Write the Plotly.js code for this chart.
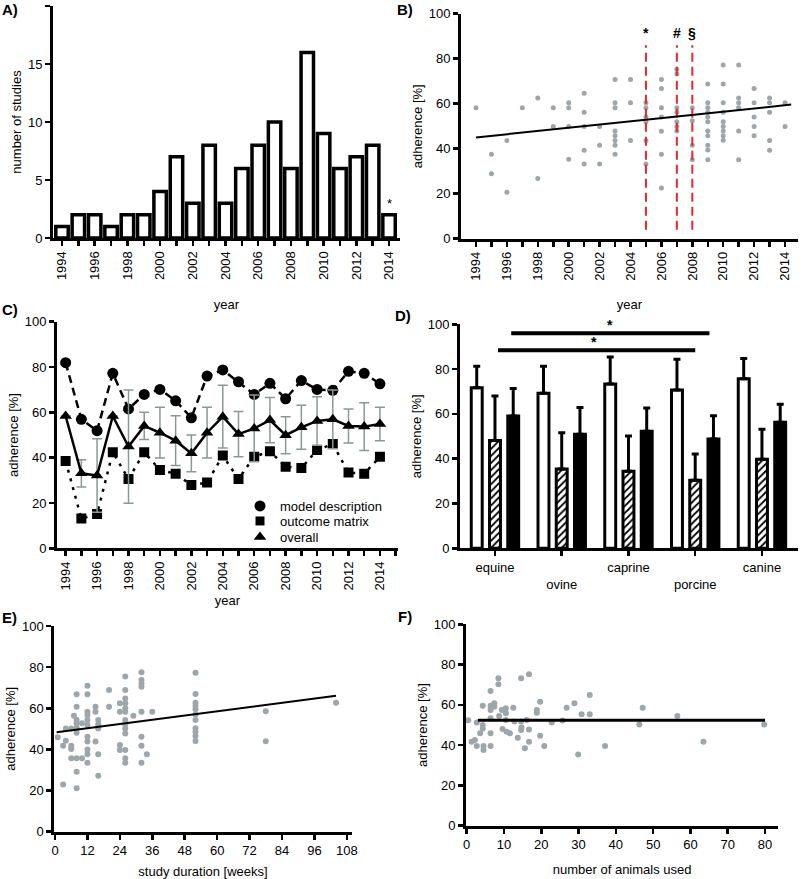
<!DOCTYPE html>
<html><head><meta charset="utf-8">
<script src="https://cdn.plot.ly/plotly-3.0.1.min.js"></script>
<style>html,body{margin:0;padding:0;background:#fff}#chart{width:800px;height:879px}</style>
</head><body><div id="chart"></div>
<script>
// ---------- Panel A: number of studies per year ----------
const years = [1994,1995,1996,1997,1998,1999,2000,2001,2002,2003,2004,2005,2006,2007,2008,2009,2010,2011,2012,2013,2014];
const studiesPerYear = [1,2,2,1,2,2,4,7,3,8,3,6,8,10,6,16,9,6,7,8,2];

// ---------- Panel B: adherence per study by year ----------
const yearsB = [1994,1995,1995,1996,1996,1997,1998,1998,1999,1999,
  2000,2000,2000,2000,2001,2001,2001,2001,2001,2002,2002,2002,
  2003,2003,2003,2003,2003,2003,2003,2003,2004,2004,2004,
  2005,2005,2005,2005,2005,2005,2006,2006,2006,2006,2006,2006,2006,
  2007,2007,2007,2007,2007,2007,2007,2008,2008,2008,2008,
  2009,2009,2009,2009,2009,2009,2009,2009,2009,2009,2009,
  2010,2010,2010,2010,2010,2010,2010,2010,2010,
  2011,2011,2011,2011,2011,2011,2012,2012,2012,2012,2012,
  2013,2013,2013,2013,2013,2014,2014];
const adherenceB = [58.2,37.5,28.9,43.6,20.6,58.2,62.5,26.8,58.2,49.9,
  60.4,58.2,49.9,35.3,64.6,56.2,49.9,39.3,33.2,49.9,41.5,33.2,
  70.8,60.4,58.2,47.9,45.8,43.6,41.5,37.5,70.8,60.4,43.6,
  60.4,58.2,54.1,52.0,43.6,33.2,70.8,66.7,58.2,54.1,47.7,37.5,22.5,
  75.3,73.2,58.2,56.2,52.0,49.9,47.9,58.2,52.4,41.5,35.1,
  68.8,60.4,58.2,56.2,54.1,52.0,47.9,45.8,41.5,39.4,35.1,
  77.2,68.8,60.4,56.2,52.0,49.9,47.9,45.8,43.7,
  77.2,62.5,60.4,58.2,47.9,35.1,66.7,60.4,54.1,49.9,45.8,
  62.5,60.4,56.2,43.6,39.3,60.4,49.9];
const trendBYear = [1994, 2014.4];
const trendBAdh = [45.0, 59.6];
const guideYears = [2005, 2007, 2008];
const guideSymbols = ['*', '#', '§'];

// ---------- Panel C: adherence by year per category ----------
const modelDescription = [81.9,56.9,51.9,77.2,61.5,67.9,70.1,65.1,57.6,76.0,78.7,73.5,67.9,72.8,66.0,74.0,70.1,69.7,78.1,77.2,72.6];
const outcomeMatrix = [38.5,13.1,15.1,42.4,30.6,42.4,34.6,32.9,27.9,29.0,40.9,30.6,40.4,42.8,36.0,35.4,43.4,46.0,33.4,32.9,40.4];
const overall = [58.4,33.1,32.1,58.4,44.9,54.0,51.0,47.5,41.9,51.0,58.1,50.4,52.9,56.6,49.9,53.4,56.2,56.9,54.0,53.7,54.9];
const overallErr = [0,6.0,16.2,0,25.0,6.0,11.2,11.0,8.1,11.2,13.8,10.0,14.7,10.0,8.2,9.7,10.7,13.0,7.5,10.5,7.4];
const seriesNamesC = ['model description', 'outcome matrix', 'overall'];

// ---------- Panel D: adherence per species ----------
const species = ['equine','ovine','caprine','porcine','canine'];
const speciesModel = [71.7,69.2,73.4,70.7,75.7];
const speciesModelErr = [9.6,12.1,12.0,13.7,9.0];
const speciesOutcome = [48.1,35.4,34.4,30.4,39.7];
const speciesOutcomeErr = [19.9,16.2,15.7,11.7,13.4];
const speciesOverall = [59.1,50.9,52.2,48.8,56.3];
const speciesOverallErr = [12.2,12.0,10.4,10.4,8.0];

// ---------- Panel E: adherence vs study duration ----------
const weeksE = [1,3,3,4,4,6,6,6,6,7,8,8,8,8,8,8,8,8,8,10,10,
  12,12,12,12,12,12,12,12,12,12,12,15,15,15,16,16,16,16,16,20,20,
  24,24,24,24,26,26,26,26,26,26,26,26,26,26,26,26,26,29,
  32,32,32,32,32,32,32,32,34,36,
  52,52,52,52,52,52,52,52,52,52,52,78,78,104];
const adhE = [45.9,41.8,23.0,44.2,50.2,50.2,41.8,40.2,35.7,56.4,66.8,60.8,54.3,52.7,50.6,48.1,35.7,29.2,21.1,52.7,35.7,
  71.0,66.8,58.3,56.7,54.3,51.9,46.2,43.8,40.0,37.6,33.5,60.8,58.3,43.8,54.3,52.2,50.2,37.6,27.2,68.9,60.8,
  62.4,58.3,42.1,39.7,75.4,68.9,64.8,62.4,60.0,58.3,54.3,52.2,50.2,47.8,39.7,35.7,33.5,56.4,
  77.5,73.7,72.1,70.5,58.3,46.2,41.8,33.5,37.6,58.3,
  77.3,66.9,62.7,61.1,59.5,57.0,54.3,50.3,48.6,46.5,44.1,58.5,44.0,62.7];
const trendEWeeks = [0.6, 104];
const trendEAdh = [48.4, 66.1];

// ---------- Panel F: adherence vs number of animals ----------
const animalsF = [0.4,1.3,2.2,2.7,2.7,3.6,4.3,4.3,4.3,4.5,4.5,6.4,6.4,6.4,6.4,6.4,6.4,7.4,7.4,8.5,8.5,8.7,9.4,9.6,
  10.5,10.5,10.5,10.7,11.6,12.5,12.8,13.7,14.6,14.6,14.6,14.7,15.6,16.7,16.7,16.7,16.1,18.8,18.8,19.7,19.7,20.8,
  22.8,25.7,26.8,28.9,29.9,30.8,33,33,37.1,46.3,47.2,56.5,63.5,79.8];
const adhF = [52.3,41.7,42.5,39.6,51.2,45.9,59.6,50,48.3,39.6,37.6,66.9,59.6,57.5,53.3,45.9,39.6,60.8,59.1,73.2,70.2,54.5,57.5,48,
  58.3,55.8,52.5,46.7,45.9,58.6,51.7,43.7,73.2,47.5,51.7,48.8,38.4,75.2,47.8,41.7,52.5,57.5,56.1,61.6,44.7,39.6,
  51.2,52.2,58.6,60.8,35.4,55.3,64.9,55.3,39.6,50.3,58.6,54.5,41.7,50.3];
const trendFAnimals = [3, 80];
const trendFAdh = [52.3, 52.3];

// ---------- styling ----------
const FONT = 'Liberation Sans, Arial, Helvetica, sans-serif';
const GRAY = '#9ca6ab';
const W = 800, H = 879;
const px = v => v / W;
const py = v => 1 - v / H;

function axis(extra) {
  return Object.assign({
    showline: true, linecolor: 'black', linewidth: 3,
    ticks: 'outside', ticklen: 5, tickwidth: 2.5, tickcolor: 'black',
    showgrid: false, zeroline: false, fixedrange: true,
    tickfont: {family: FONT, size: 13, color: 'black'}
  }, extra);
}
function ytitle(text, standoff) {
  return {text: text, font: {family: FONT, size: 13, color: 'black'}, standoff: standoff};
}
const yearMinor = {dtick: 1, tick0: 1994, ticks: 'outside', ticklen: 5, tickwidth: 2.5, tickcolor: 'black', showgrid: false};

const traces = [];

// A
traces.push({type: 'bar', x: years, y: studiesPerYear, width: 0.76, xaxis: 'x', yaxis: 'y',
  marker: {color: 'white', line: {color: 'black', width: 3.5}}, showlegend: false, hoverinfo: 'x+y'});

// B
traces.push({type: 'scatter', mode: 'markers', x: yearsB, y: adherenceB, xaxis: 'x2', yaxis: 'y2',
  marker: {color: GRAY, size: 5}, showlegend: false});
guideYears.forEach(function (yr) {
  traces.push({type: 'scatter', mode: 'lines', x: [yr, yr], y: [4, 86], xaxis: 'x2', yaxis: 'y2',
    line: {color: '#e8282b', width: 2, dash: '9px,5px'}, showlegend: false, hoverinfo: 'skip'});
});
traces.push({type: 'scatter', mode: 'lines', x: trendBYear, y: trendBAdh, xaxis: 'x2', yaxis: 'y2',
  line: {color: 'black', width: 2}, showlegend: false});

// C
traces.push({type: 'scatter', mode: 'lines+markers', name: seriesNamesC[0], x: years, y: modelDescription,
  xaxis: 'x3', yaxis: 'y3', line: {color: 'black', width: 2.5, dash: '8px,5px'},
  marker: {symbol: 'circle', size: 11, color: 'black'}, showlegend: false});
traces.push({type: 'scatter', mode: 'lines+markers', name: seriesNamesC[1], x: years, y: outcomeMatrix,
  xaxis: 'x3', yaxis: 'y3', line: {color: 'black', width: 2.5, dash: '3px,6px'},
  marker: {symbol: 'square', size: 10, color: 'black'}, showlegend: false});
traces.push({type: 'scatter', mode: 'lines+markers', name: seriesNamesC[2], x: years, y: overall,
  xaxis: 'x3', yaxis: 'y3', line: {color: 'black', width: 2.5},
  marker: {symbol: 'triangle-up', size: 11, color: 'black'},
  error_y: {type: 'data', array: overallErr, visible: true, color: '#8a9896', thickness: 1.5, width: 5},
  showlegend: false});
const legendSymbols = [['circle', 11, 'legend'], ['square', 9, 'legend2'], ['triangle-up', 11, 'legend3']];
legendSymbols.forEach(function (d, i) {
  traces.push({type: 'scatter', mode: 'markers', name: seriesNamesC[i], x: [null], y: [null], xaxis: 'x3', yaxis: 'y3',
    marker: {symbol: d[0], size: d[1], color: 'black'}, showlegend: true, legend: d[2]});
});

// D
const dTicks = species.map(function (s, i) { return i % 2 ? '<br>' + s : s; });
const zeros = species.map(function () { return 0; });
traces.push({type: 'bar', name: 'model description', x: species, y: speciesModel, xaxis: 'x4', yaxis: 'y4',
  marker: {color: 'white', line: {color: 'black', width: 3}},
  error_y: {type: 'data', symmetric: false, array: speciesModelErr, arrayminus: zeros, color: 'black', thickness: 3, width: 3.5},
  showlegend: false});
traces.push({type: 'bar', name: 'outcome matrix', x: species, y: speciesOutcome, xaxis: 'x4', yaxis: 'y4',
  marker: {color: 'white', line: {color: 'black', width: 3},
    pattern: {shape: '/', fgcolor: 'black', bgcolor: 'white', size: 5, solidity: 0.35}},
  error_y: {type: 'data', symmetric: false, array: speciesOutcomeErr, arrayminus: zeros, color: 'black', thickness: 3, width: 3.5},
  showlegend: false});
traces.push({type: 'bar', name: 'overall', x: species, y: speciesOverall, xaxis: 'x4', yaxis: 'y4',
  marker: {color: 'black', line: {color: 'black', width: 3}},
  error_y: {type: 'data', symmetric: false, array: speciesOverallErr, arrayminus: zeros, color: 'black', thickness: 3, width: 3.5},
  showlegend: false});

// E
traces.push({type: 'scatter', mode: 'markers', x: weeksE, y: adhE, xaxis: 'x5', yaxis: 'y5',
  marker: {color: GRAY, size: 6}, showlegend: false});
traces.push({type: 'scatter', mode: 'lines', x: trendEWeeks, y: trendEAdh, xaxis: 'x5', yaxis: 'y5',
  line: {color: 'black', width: 2}, showlegend: false});

// F
traces.push({type: 'scatter', mode: 'markers', x: animalsF, y: adhF, xaxis: 'x6', yaxis: 'y6',
  marker: {color: GRAY, size: 6}, showlegend: false});
traces.push({type: 'scatter', mode: 'lines', x: trendFAnimals, y: trendFAdh, xaxis: 'x6', yaxis: 'y6',
  line: {color: 'black', width: 3}, showlegend: false});

// significance bars in D (group offsets: 3 bars per category)
const bargap = 0.18;
const slot = (1 - bargap) / 3;
const shapes = [
  {type: 'line', xref: 'x4', yref: 'y4', x0: 0 + slot - 0.03, x1: 3 + slot - 0.06, y0: 96, y1: 96, line: {color: 'black', width: 4}},
  {type: 'line', xref: 'x4', yref: 'y4', x0: 0 + 0.045, x1: 3.0, y0: 88.4, y1: 88.4, line: {color: 'black', width: 4}}
];

const annotations = [];
function panelLabel(t, x, y) {
  annotations.push({text: '<b>' + t + '</b>', xref: 'paper', yref: 'paper', x: px(x), y: py(y),
    xanchor: 'left', yanchor: 'middle', showarrow: false, font: {family: FONT, size: 15, color: 'black'}});
}
panelLabel('A)', 0, 9);
panelLabel('B)', 395, 9);
panelLabel('C)', 0, 309);
panelLabel('D)', 393, 316);
panelLabel('E)', 0, 617);
panelLabel('F)', 396, 616);
annotations.push({text: '*', xref: 'x', yref: 'y', x: years[years.length - 1], y: studiesPerYear[studiesPerYear.length - 1],
  yanchor: 'bottom', yshift: 2, showarrow: false, font: {family: FONT, size: 13, color: 'black'}});
guideYears.forEach(function (yr, i) {
  annotations.push({text: '<b>' + guideSymbols[i] + '</b>', xref: 'x2', yref: 'y2', x: yr, y: 87,
    yanchor: 'bottom', showarrow: false, font: {family: FONT, size: 14, color: 'black'}});
});
annotations.push({text: '<b>*</b>', xref: 'x4', yref: 'y4', x: 1.72, y: 96, yanchor: 'bottom', yshift: -2,
  showarrow: false, font: {family: FONT, size: 14, color: 'black'}});
annotations.push({text: '<b>*</b>', xref: 'x4', yref: 'y4', x: 1.48, y: 88.4, yanchor: 'bottom', yshift: -2,
  showarrow: false, font: {family: FONT, size: 14, color: 'black'}});

function legendAt(rowCenterY) {
  return {x: px(240), y: py(rowCenterY - 10), xanchor: 'left', yanchor: 'top', bgcolor: 'rgba(0,0,0,0)',
    font: {family: FONT, size: 13, color: 'black'}, itemwidth: 30, tracegroupgap: 0};
}

const layout = {
  width: W, height: H,
  margin: {l: 0, r: 0, t: 0, b: 0},
  paper_bgcolor: 'white', plot_bgcolor: 'white',
  font: {family: FONT, size: 13, color: 'black'},
  showlegend: true,
  legend: legendAt(501),
  legend2: legendAt(516),
  legend3: legendAt(532),
  barmode: 'group', bargap: bargap, bargroupgap: 0.4,
  // A
  xaxis: axis({domain: [px(53), px(400)], anchor: 'y', range: [1993.45, 2014.67], tickmode: 'linear', tick0: 1994, dtick: 2,
    tickangle: -90, minor: yearMinor, title: {text: 'year', font: {family: FONT, size: 13}, standoff: 21}}),
  yaxis: axis({domain: [py(238), py(6)], anchor: 'x', range: [0, 20], tickmode: 'linear', tick0: 0, dtick: 5,
    title: ytitle('number of studies', 4)}),
  // B
  xaxis2: axis({domain: [px(461), px(798)], anchor: 'y2', range: [1993.03, 2014.84], tickmode: 'linear', tick0: 1994, dtick: 2,
    tickangle: -90, minor: yearMinor, title: {text: 'year', font: {family: FONT, size: 13}, standoff: 21}}),
  yaxis2: axis({domain: [py(238.7), py(13.7)], anchor: 'x2', range: [0, 100], tickmode: 'linear', tick0: 0, dtick: 20,
    title: ytitle('adherence [%]', 4)}),
  // C
  xaxis3: axis({domain: [px(57), px(398)], anchor: 'y3', range: [1993.45, 2015.15], tickmode: 'linear', tick0: 1994, dtick: 2,
    tickangle: -90, minor: yearMinor, title: {text: 'year', font: {family: FONT, size: 13}, standoff: 7}}),
  yaxis3: axis({domain: [py(548.3), py(321.7)], anchor: 'x3', range: [0, 100], tickmode: 'linear', tick0: 0, dtick: 20,
    title: ytitle('adherence [%]', 4)}),
  // D
  xaxis4: axis({domain: [px(460), px(798)], anchor: 'y4', type: 'category', range: [-0.524, 4.54],
    tickmode: 'array', tickvals: species, ticktext: dTicks}),
  yaxis4: axis({domain: [py(548.3), py(324.3)], anchor: 'x4', range: [0, 100], tickmode: 'linear', tick0: 0, dtick: 20,
    title: ytitle('adherence [%]', 4)}),
  // E
  xaxis5: axis({domain: [px(54.3), px(351.7)], anchor: 'y5', range: [-0.26, 109.8], tickmode: 'linear', tick0: 0, dtick: 12,
    title: {text: 'study duration [weeks]', font: {family: FONT, size: 13}, standoff: 14}}),
  yaxis5: axis({domain: [py(831.7), py(626)], anchor: 'x5', range: [0, 100], tickmode: 'linear', tick0: 0, dtick: 20,
    title: ytitle('adherence [%]', 4)}),
  // F
  xaxis6: axis({domain: [px(466), px(778.3)], anchor: 'y6', range: [-0.19, 83.57], tickmode: 'linear', tick0: 0, dtick: 10,
    title: {text: 'number of animals used', font: {family: FONT, size: 13}, standoff: 14}}),
  yaxis6: axis({domain: [py(825.7), py(624.3)], anchor: 'x6', range: [0, 100], tickmode: 'linear', tick0: 0, dtick: 20,
    title: ytitle('adherence [%]', 4)}),
  shapes: shapes,
  annotations: annotations
};

Plotly.newPlot('chart', traces, layout, {displayModeBar: false, staticPlot: true});
</script>
</body></html>
